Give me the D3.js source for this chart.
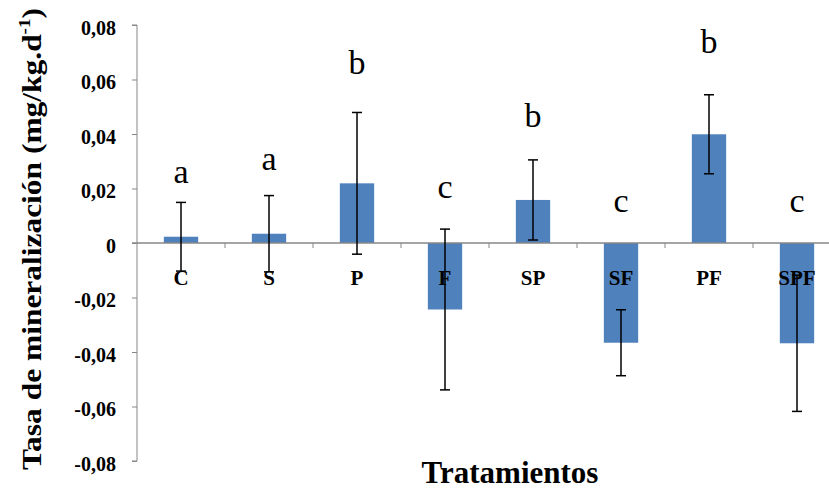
<!DOCTYPE html>
<html>
<head>
<meta charset="utf-8">
<script src="https://cdn.jsdelivr.net/npm/d3@7"></script>
</head>
<body style="margin:0">
<script>
const categories = ["C", "S", "P", "F", "SP", "SF", "PF", "SPF"];
const means = [0.0023, 0.0034, 0.0219, -0.0244, 0.0158, -0.0366, 0.0399, -0.0368];
const errors = [0.0126, 0.014, 0.026, 0.0295, 0.0147, 0.0121, 0.0145, 0.025];
const letters = ["a", "a", "b", "c", "b", "c", "b", "c"];
const letterY = [0.022, 0.0268, 0.062, 0.0165, 0.0426, 0.0114, 0.0697, 0.0114];
const yTicks = [-0.08, -0.06, -0.04, -0.02, 0, 0.02, 0.04, 0.06, 0.08];

const width = 829;
const height = 489;
const serif = "Liberation Serif";

const data = categories.map((c, i) => ({
  cat: c,
  mean: means[i],
  err: errors[i],
  letter: letters[i],
  ly: letterY[i],
}));

const svg = d3
  .select("body")
  .append("svg")
  .attr("width", width)
  .attr("height", height);

const x = d3
  .scaleBand()
  .domain(categories)
  .range([137, 841])
  .paddingInner(0.61)
  .paddingOuter(0.305);

const y = d3.scaleLinear().domain([-0.08, 0.08]).range([461, 25]);

const axisColor = "#878787";

const fmt = (d) =>
  d === 0 ? "0" : d3.format(".2f")(d).replace(".", ",").replace("\u2212", "-");

// y axis
const yAxis = svg
  .append("g")
  .attr("transform", "translate(137,0)")
  .call(d3.axisLeft(y).tickValues(yTicks).tickSize(5).tickPadding(16).tickFormat(fmt))
  .attr("font-family", null)
  .attr("font-size", null);

yAxis.select(".domain").attr("stroke", axisColor).attr("d", `M-5,${y(0.08)}H0V${y(-0.08)}H-5`);
yAxis.selectAll(".tick line").attr("stroke", axisColor);
yAxis
  .selectAll(".tick text")
  .attr("fill", "#000")
  .style("font-family", serif)
  .style("font-weight", "bold")
  .style("font-size", "20px")
  .attr("dy", "0.45em");

// bars
svg
  .selectAll(".bar")
  .data(data)
  .enter()
  .append("rect")
  .attr("class", "bar")
  .attr("x", (d) => x(d.cat))
  .attr("y", (d) => y(Math.max(0, d.mean)))
  .attr("width", x.bandwidth())
  .attr("height", (d) => Math.abs(y(d.mean) - y(0)))
  .attr("fill", "#4f81bd");

// zero line with ticks at band boundaries
svg
  .append("line")
  .attr("x1", 132)
  .attr("x2", width)
  .attr("y1", y(0))
  .attr("y2", y(0))
  .attr("stroke", axisColor)
  .attr("stroke-width", 1.5);

const step = x.step();
svg
  .selectAll(".xtick")
  .data(d3.range(1, categories.length))
  .enter()
  .append("line")
  .attr("class", "xtick")
  .attr("x1", (i) => 137 + i * step)
  .attr("x2", (i) => 137 + i * step)
  .attr("y1", y(0))
  .attr("y2", y(0) + 5)
  .attr("stroke", axisColor);

// category labels
svg
  .selectAll(".cat-label")
  .data(data)
  .enter()
  .append("text")
  .attr("class", "cat-label")
  .attr("x", (d) => x(d.cat) + x.bandwidth() / 2)
  .attr("y", y(0) + 42)
  .attr("text-anchor", "middle")
  .style("font-family", serif)
  .style("font-weight", "bold")
  .style("font-size", "21px")
  .text((d) => d.cat);

// error bars
const eb = svg
  .selectAll(".errbar")
  .data(data)
  .enter()
  .append("g")
  .attr("class", "errbar")
  .attr("stroke", "#000")
  .attr("stroke-width", 1.5);

eb.append("line")
  .attr("x1", (d) => x(d.cat) + x.bandwidth() / 2)
  .attr("x2", (d) => x(d.cat) + x.bandwidth() / 2)
  .attr("y1", (d) => y(d.mean + d.err))
  .attr("y2", (d) => y(d.mean - d.err));

[1, -1].forEach((s) => {
  eb.append("line")
    .attr("x1", (d) => x(d.cat) + x.bandwidth() / 2 - 5)
    .attr("x2", (d) => x(d.cat) + x.bandwidth() / 2 + 5)
    .attr("y1", (d) => y(d.mean + s * d.err))
    .attr("y2", (d) => y(d.mean + s * d.err));
});

// significance letters
svg
  .selectAll(".sig")
  .data(data)
  .enter()
  .append("text")
  .attr("class", "sig")
  .attr("x", (d) => x(d.cat) + x.bandwidth() / 2)
  .attr("y", (d) => y(d.ly))
  .attr("text-anchor", "middle")
  .style("font-family", serif)
  .style("font-size", "34px")
  .text((d) => d.letter);

// axis titles
svg
  .append("text")
  .attr("x", 510)
  .attr("y", 483)
  .attr("text-anchor", "middle")
  .style("font-family", serif)
  .style("font-weight", "bold")
  .style("font-size", "31px")
  .text("Tratamientos");

const yTitle = svg
  .append("text")
  .attr("transform", "translate(41,239) rotate(-90)")
  .attr("text-anchor", "middle")
  .style("font-family", serif)
  .style("font-weight", "bold")
  .style("font-size", "28px")
  .attr("textLength", 462)
  .attr("lengthAdjust", "spacingAndGlyphs");

yTitle.append("tspan").text("Tasa de mineralización (mg/kg.d");
yTitle.append("tspan").style("font-size", "17px").attr("dy", -11).text("-1");
yTitle.append("tspan").attr("dy", 11).text(")");
</script>
</body>
</html>
